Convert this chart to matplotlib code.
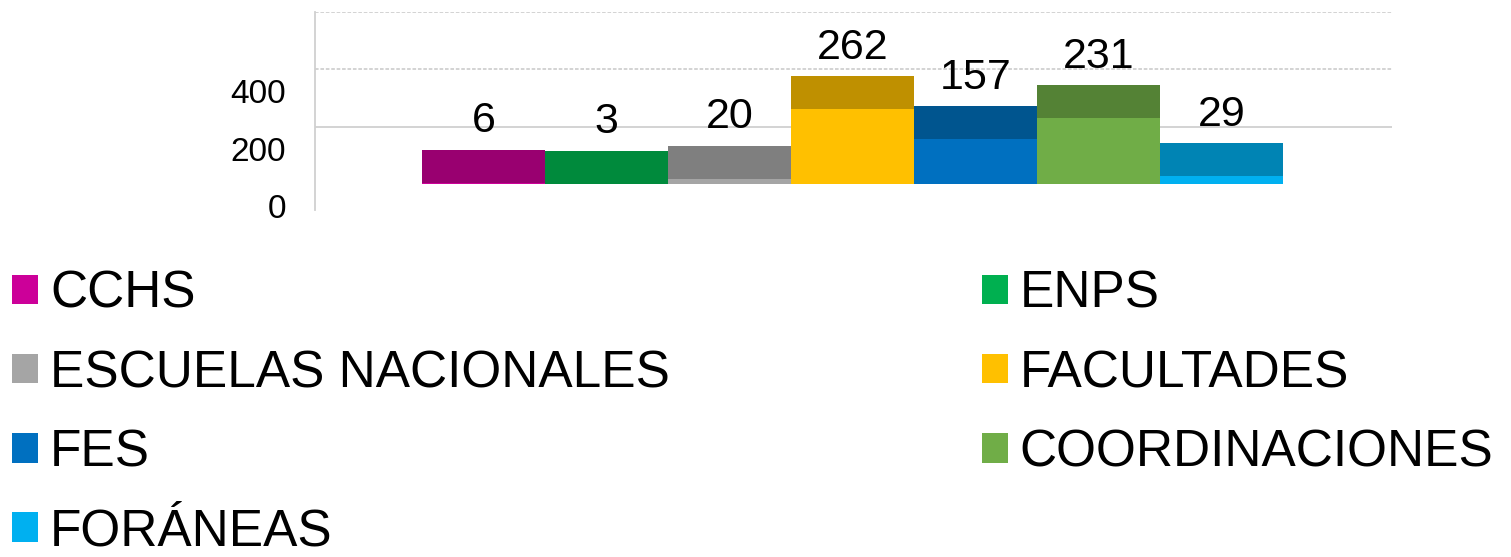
import matplotlib
matplotlib.use("Agg")
import matplotlib.pyplot as plt
from matplotlib.patches import Patch
from matplotlib.transforms import ScaledTranslation

plt.rcParams['font.family'] = ['Liberation Sans', 'DejaVu Sans']

# ---- data ----
categories = ["CCHS", "ENPS", "ESCUELAS NACIONALES", "FACULTADES", "FES",
              "COORDINACIONES", "FORÁNEAS"]
values = [6, 3, 20, 262, 157, 231, 29]
ytick_values = [0, 200, 400]
ytick_labels = ["0", "200", "400"]
grid_values = [200, 400, 600]

# ---- styles ----
front_colors = ["#CC0099", "#00B050", "#A5A5A5", "#FFC000", "#0070C0", "#70AD47", "#00B0F0"]
top_colors = ["#990070", "#008A3C", "#7F7F7F", "#BF9000", "#00558F", "#548235", "#0084B4"]
TOP_DEPTH = 115   # visible "top face" of the 3D bars, in axis units

W, H, DPI = 1511, 557, 100
fig = plt.figure(figsize=(W / DPI, H / DPI), dpi=DPI)
ax = fig.add_axes([315 / W, 1 - 210 / H, 1077 / W, 198 / H])

x = list(range(len(values)))
ax.bar(x, values, width=1.0, color=front_colors, linewidth=0, zorder=3)
ax.bar(x, [TOP_DEPTH] * len(values), bottom=values, width=1.0,
       color=top_colors, linewidth=0, zorder=3)

for xi, v in zip(x, values):
    ax.annotate(str(v), (xi, v + TOP_DEPTH), xytext=(0, 12.5),
                textcoords="offset points", ha="center", va="baseline",
                fontsize=31, color="black", zorder=4)

for g in grid_values:
    ls = "-" if g == 200 else (0, (2, 1))
    ax.axhline(g, color="#D0D0D0", lw=1.3, ls=ls, zorder=1)

ax.set_xlim(-1.37, 7.386)
ax.set_ylim(-88.7, 600)
ax.set_xticks([])
ax.set_yticks(ytick_values)
ax.set_yticklabels(ytick_labels, fontsize=24)
ax.tick_params(axis="y", length=0, pad=21)
off = ScaledTranslation(0, -22 / DPI, fig.dpi_scale_trans)
for lab in ax.get_yticklabels():
    lab.set_transform(lab.get_transform() + off)

for s in ["top", "right", "bottom"]:
    ax.spines[s].set_visible(False)
ax.spines["left"].set_color("#D0D0D0")
ax.spines["left"].set_linewidth(1.3)

# legend (row-wise order in two columns)
handles = [Patch(facecolor=c, edgecolor="none", label=n)
           for c, n in zip(front_colors, categories)]
order = [0, 2, 4, 6, 1, 3, 5]
fig.legend([handles[i] for i in order], [categories[i] for i in order],
           ncol=2, loc="upper left", bbox_to_anchor=(12 / W, 1 - 270 / H),
           frameon=False, borderpad=0, borderaxespad=0, fontsize=37,
           handlelength=0.5, handleheight=0.5, handletextpad=0.24,
           labelspacing=0.585, columnspacing=6.07)

fig.savefig("out.png", dpi=DPI)
